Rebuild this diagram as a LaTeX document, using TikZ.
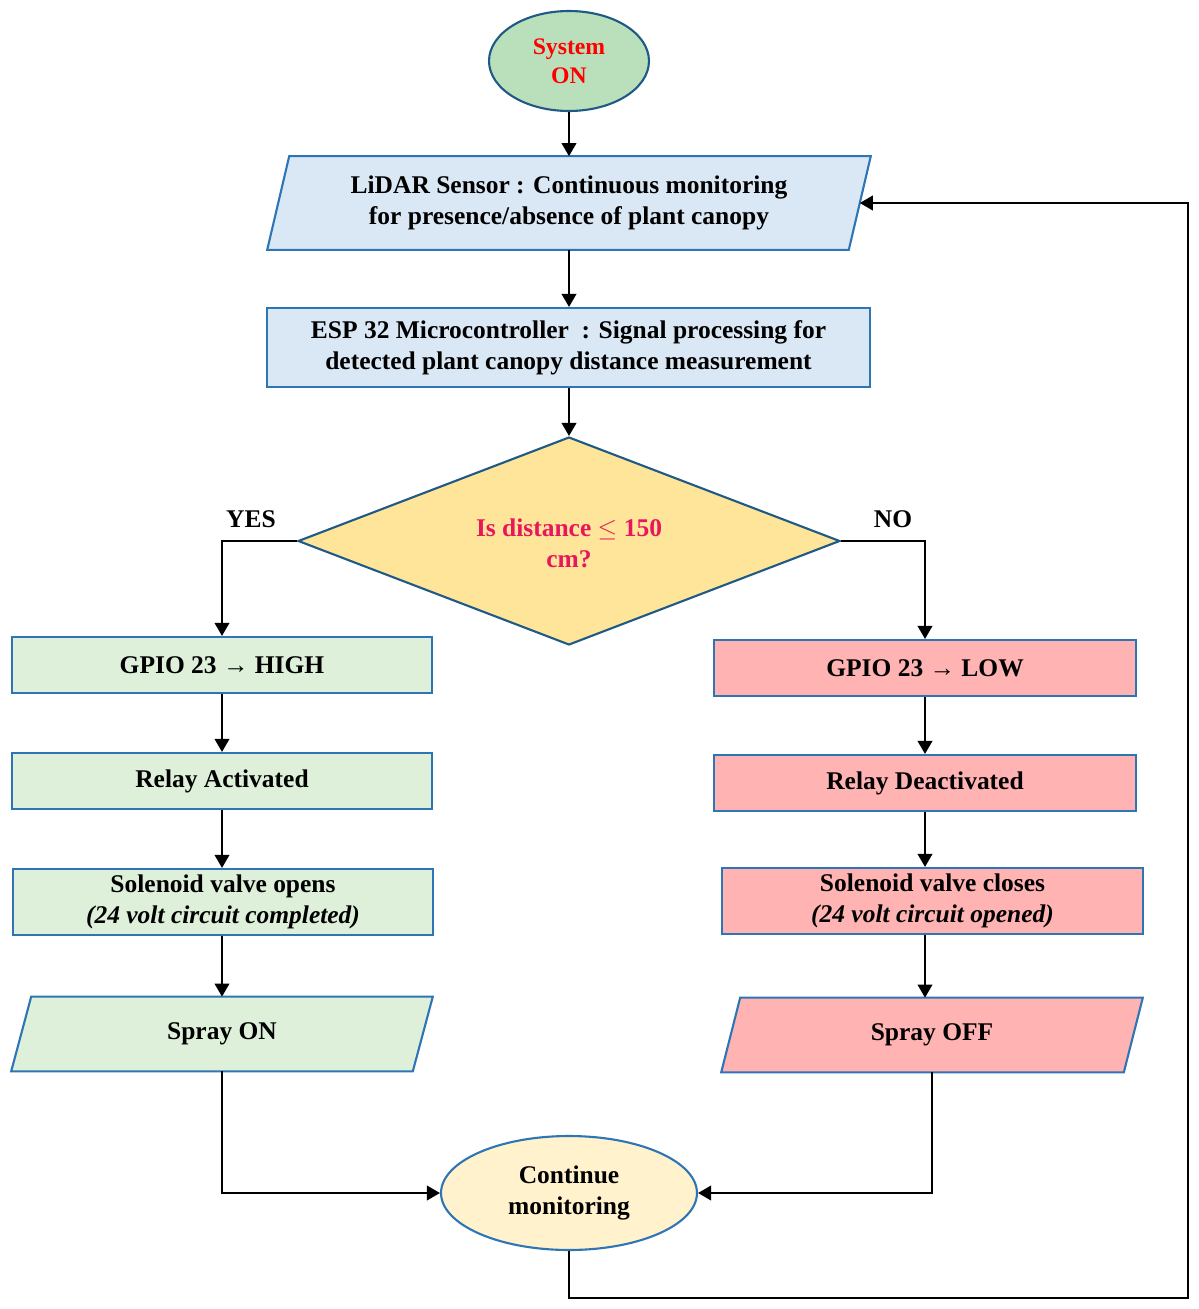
\documentclass[tikz,border=0pt]{standalone}
\usepackage{fontspec}
\setmainfont{Liberation Serif}
\usetikzlibrary{shapes.geometric,arrows.meta,backgrounds,calc}
\definecolor{sysfill}{HTML}{B9E0BA}
\definecolor{darkb}{HTML}{1F5A86}
\definecolor{midb}{HTML}{2E75B6}
\definecolor{bluefill}{HTML}{DAE8F5}
\definecolor{decfill}{HTML}{FFE599}
\definecolor{decText}{HTML}{E8175D}
\definecolor{greenfill}{HTML}{DEF0DA}
\definecolor{pinkfill}{HTML}{FFB3B3}
\definecolor{contfill}{HTML}{FFF2CC}
\tikzset{
  every node/.style={font=\fontsize{14.5}{17.6}\selectfont\bfseries, inner sep=0pt, align=center},
  boxnode/.style={rectangle, draw=midb, line width=1.2pt},
  paranode/.style={rectangle},
  parashape/.style={draw=midb, line width=1.2pt},
  arr/.style={-{Triangle[length=0.26cm,width=0.29cm]}, line width=1.2pt, black},
  lbl/.style={font=\fontsize{14.5}{17.6}\selectfont\bfseries}
}
\begin{document}
\begin{tikzpicture}[x=0.02cm,y=-0.02cm]
\useasboundingbox (0,0) rectangle (1199,1309);
% start
\node[ellipse, draw=darkb, fill=sysfill, line width=1.2pt, minimum width=3.2cm, minimum height=2.0cm,
      text=red, font=\fontsize{13.5}{16.5}\selectfont\bfseries] (sys) at (569,61) {System\\ON};
% LiDAR
\node[paranode, minimum width=11.62cm, minimum height=1.86cm] (lidar) at (569,203)
  {LiDAR Sensor : Continuous monitoring\\for presence/absence of plant canopy};
% ESP
\node[boxnode, fill=bluefill, minimum width=12.06cm, minimum height=1.58cm] (esp) at (568.5,347.5)
  {ESP 32 Microcontroller \ : Signal processing for\\detected plant canopy distance measurement};
% decision
\node[diamond, draw=darkb, fill=decfill, line width=1.2pt, minimum width=10.84cm, minimum height=4.16cm] (dec) at (569,541) {};
\node[text=decText] (dectext) at (569,543) {Is distance $\leq$ 150\\cm?};
\node[lbl] (yes) at (251,519) {YES};
\node[lbl] (no) at (893,519) {NO};
% left column
\node[boxnode, fill=greenfill, minimum width=8.4cm, minimum height=1.12cm] (hi) at (222,665) {GPIO 23 → HIGH};
\node[boxnode, fill=greenfill, minimum width=8.4cm, minimum height=1.12cm] (ra) at (222,781) {Relay Activated};
\node[boxnode, fill=greenfill, minimum width=8.4cm, minimum height=1.32cm] (so) at (223,902)
  {Solenoid valve opens\\{\itshape (24 volt circuit completed)}};
\node[paranode, minimum width=8.02cm, minimum height=1.48cm] (son) at (222,1034) {Spray ON};
% right column
\node[boxnode, fill=pinkfill, minimum width=8.44cm, minimum height=1.12cm] (lo) at (925,668) {GPIO 23 → LOW};
\node[boxnode, fill=pinkfill, minimum width=8.44cm, minimum height=1.12cm] (rd) at (925,783) {Relay Deactivated};
\node[boxnode, fill=pinkfill, minimum width=8.42cm, minimum height=1.32cm] (sc) at (932.5,901)
  {Solenoid valve closes\\{\itshape (24 volt circuit opened)}};
\node[paranode, minimum width=8.04cm, minimum height=1.48cm] (soff) at (932,1035) {Spray OFF};
% end
\node[ellipse, draw=midb, fill=contfill, line width=1.2pt, minimum width=5.12cm, minimum height=2.28cm] (cont)
  at (569,1193) {Continue\\monitoring};
% parallelogram bodies
\begin{pgfonlayer}{background}
\draw[parashape, fill=bluefill] ([xshift=-0.22cm]lidar.south west) -- ([xshift=-0.22cm]lidar.south east)
  -- ([xshift=0.22cm]lidar.north east) -- ([xshift=0.22cm]lidar.north west) -- cycle;
\draw[parashape, fill=greenfill] ([xshift=-0.2cm]son.south west) -- ([xshift=-0.2cm]son.south east)
  -- ([xshift=0.2cm]son.north east) -- ([xshift=0.2cm]son.north west) -- cycle;
\draw[parashape, fill=pinkfill] ([xshift=-0.19cm]soff.south west) -- ([xshift=-0.19cm]soff.south east)
  -- ([xshift=0.19cm]soff.north east) -- ([xshift=0.19cm]soff.north west) -- cycle;
\end{pgfonlayer}
% connectors
\draw[arr] (sys.south) -- (lidar.north);
\draw[arr] (lidar.south) -- (lidar.south |- esp.north);
\draw[arr] (lidar.south |- esp.south) -- (dec.north);
\draw[arr] (dec.west) -| (hi.north);
\draw[arr] (dec.east) -| (lo.north);
\draw[arr] (hi.south) -- (ra.north);
\draw[arr] (ra.south) -- (ra.south |- so.north);
\draw[arr] (so.south -| ra.south) -- (son.north);
\draw[arr] (lo.south) -- (rd.north);
\draw[arr] (rd.south) -- (rd.south |- sc.north);
\draw[arr] (sc.south -| rd.south) -- (rd.south |- soff.north);
\draw[arr] (son.south) |- (cont.west);
\draw[arr] (soff.south) |- (cont.east);
\coordinate (loopR) at (1188,1298);
\draw[arr] (cont.south) |- (loopR) |- (lidar.east);
\end{tikzpicture}
\end{document}
